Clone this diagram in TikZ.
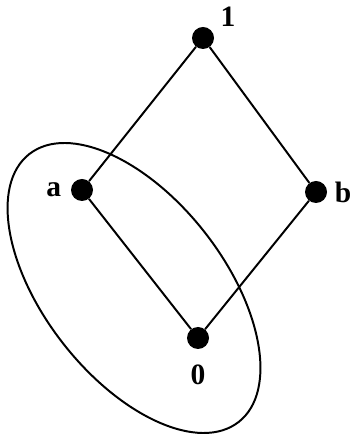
\documentclass[tikz,border=0pt]{standalone}
\usepackage{fontspec}
\setmainfont{Liberation Serif}
\usetikzlibrary{positioning}

\begin{document}
\begin{tikzpicture}[
        elem/.style={circle, fill=black, inner sep=0pt, minimum size=0.55cm},
        lbl/.style={font=\fontsize{21}{24}\selectfont\bfseries, inner sep=1pt},
        edge/.style={line width=1.4pt}]
    \useasboundingbox (0,0) rectangle (8.8,10.95);

    \node[elem] (one) at (5.075,10.0) {};
    \node[elem] (a) at (2.05,6.2) {};
    \node[elem] (b) at (7.9,6.15) {};
    \node[elem] (zero) at (4.95,2.5) {};

    \node[lbl, above right=0.05cm and 0.2cm of one] (lone) {1};
    \node[lbl, left=0.2cm of a] (la) {a};
    \node[lbl, right=0.15cm of b] (lb) {b};
    \node[lbl, below=0.35cm of zero] (lzero) {0};

    \draw[edge] (one) -- (a);
    \draw[edge] (one) -- (b);
    \draw[edge] (a) -- (zero);
    \draw[edge] (b) -- (zero);

    % the filter
    \draw[edge] (3.35,3.75) ellipse[x radius=4.25cm, y radius=2.25cm, rotate=-52];
\end{tikzpicture}
\end{document}
